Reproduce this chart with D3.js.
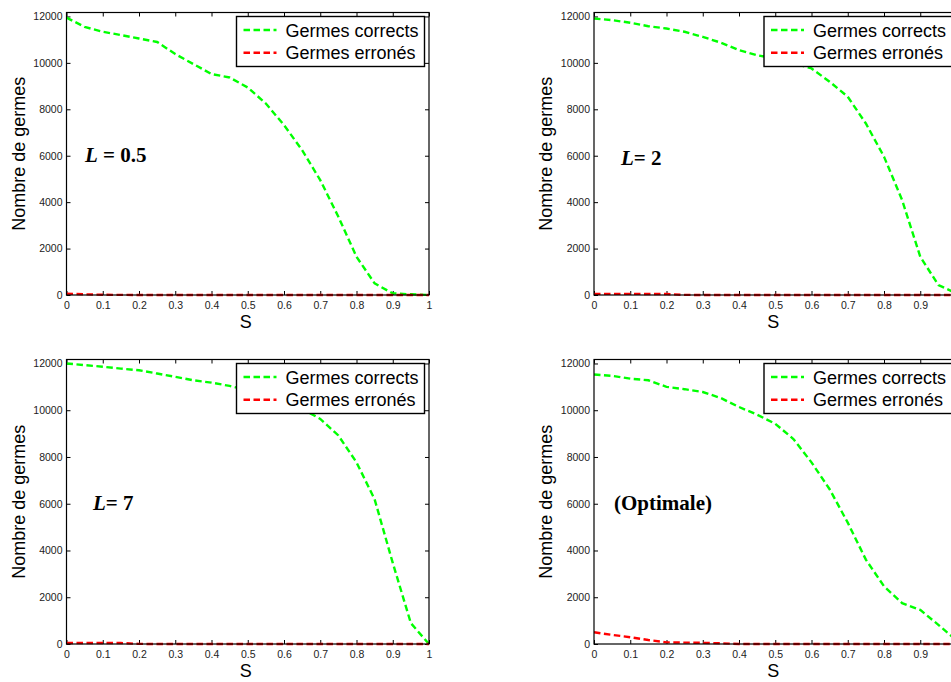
<!DOCTYPE html>
<html>
<head>
<meta charset="utf-8">
<script src="https://cdn.jsdelivr.net/npm/d3@7"></script>
<style>
  html, body { margin: 0; padding: 0; background: #fff; }
  svg { display: block; }
</style>
</head>
<body>
<svg id="chart" width="951" height="682"></svg>
<script>
// ---------- data ----------
const sValues = [0, 0.05, 0.1, 0.15, 0.2, 0.25, 0.3, 0.35, 0.4, 0.45, 0.5,
                 0.55, 0.6, 0.65, 0.7, 0.75, 0.8, 0.85, 0.9, 0.95, 1];

const correctL05 = [11950, 11550, 11340, 11200, 11050, 10900, 10380, 9950, 9520, 9370, 8940,
                    8250, 7320, 6240, 4950, 3370, 1650, 500, 70, 30, 0];
const wrongL05   = [60, 30, 10, 5, 0, 0, 0, 0, 0, 0, 0, 0, 0, 0, 0, 0, 0, 0, 0, 0, 0];

const correctL2  = [11910, 11840, 11730, 11580, 11480, 11340, 11120, 10870, 10550, 10330, 10190,
                    9980, 9760, 9190, 8540, 7390, 5960, 4090, 1650, 430, 70];
const wrongL2    = [50, 50, 50, 45, 40, 5, 0, 0, 0, 0, 0, 0, 0, 0, 0, 0, 0, 0, 0, 0, 0];

const correctL7  = [12000, 11930, 11860, 11780, 11710, 11570, 11430, 11280, 11180, 11040, 10850,
                    10670, 10420, 10060, 9630, 8920, 7770, 6190, 3470, 890, 0];
const wrongL7    = [40, 40, 40, 40, 5, 0, 0, 0, 0, 0, 0, 0, 0, 0, 0, 0, 0, 0, 0, 0, 0];

const correctOpt = [11530, 11470, 11350, 11280, 11000, 10900, 10780, 10520, 10140, 9810, 9420,
                    8770, 7770, 6620, 5190, 3610, 2470, 1750, 1460, 820, 150];
const wrongOpt   = [500, 390, 290, 170, 70, 60, 50, 30, 0, 0, 0, 0, 0, 0, 0, 0, 0, 0, 0, 0, 0];

const xTicks = [0, 0.1, 0.2, 0.3, 0.4, 0.5, 0.6, 0.7, 0.8, 0.9, 1];
const yTicks = [0, 2000, 4000, 6000, 8000, 10000, 12000];
const seriesNames = ["Germes corrects", "Germes erronés"];
const seriesColors = ["#00ff00", "#ff0000"];
const panelLabels = ["L = 0.5", "L= 2", "L= 7", "(Optimale)"];
const xLabel = "S";
const yLabel = "Nombre de germes";

// ---------- layout ----------
const W = 951;
const plotW = 362.5;
const panels = [
  { x0: 66.5, y0: 12.5, y1: 295, correct: correctL05, wrong: wrongL05, label: 0, lx: 85, ly: 162 },
  { x0: 594, y0: 12.5, y1: 295, correct: correctL2, wrong: wrongL2, label: 1, lx: 621, ly: 165 },
  { x0: 66.5, y0: 359.5, y1: 644, correct: correctL7, wrong: wrongL7, label: 2, lx: 93, ly: 510 },
  { x0: 594, y0: 359.5, y1: 644, correct: correctOpt, wrong: wrongOpt, label: 3, lx: 614, ly: 510 }
];

const svg = d3.select("#chart");
const sans = "'Liberation Sans', Arial, Helvetica, sans-serif";
const serif = "'Liberation Serif', 'Times New Roman', serif";

panels.forEach((p, i) => {
  p.x1 = p.x0 + plotW;
  const x = d3.scaleLinear().domain([0, 1]).range([p.x0, p.x1]);
  const y = d3.scaleLinear().domain([0, 12170]).range([p.y1, p.y0]);
  const g = svg.append("g");

  const clipId = "clip" + i;
  svg.append("clipPath").attr("id", clipId)
    .append("rect").attr("x", p.x0).attr("y", p.y0 - 2)
    .attr("width", p.x1 - p.x0).attr("height", p.y1 - p.y0 + 4);

  // tick labels only where they fit in the window (the reference crops the right panels)
  const visibleX = xTicks.filter(v => x(v) + 4 <= W);

  const tl = 4;
  const axB = d3.axisBottom(x).tickValues(xTicks).tickSize(-tl).tickPadding(7)
    .tickFormat(d => visibleX.includes(d) ? d3.format("")(d) : "");
  const axT = d3.axisTop(x).tickValues(xTicks).tickSize(-tl).tickFormat("");
  const axL = d3.axisLeft(y).tickValues(yTicks).tickSize(-tl).tickPadding(4)
    .tickFormat(d3.format("d"));
  const axR = d3.axisRight(y).tickValues(yTicks).tickSize(-tl).tickFormat("");

  const styleAxis = sel => {
    sel.select(".domain").remove();
    sel.selectAll(".tick line").attr("stroke", "#000").attr("stroke-width", 1);
    sel.selectAll("text").attr("fill", "#222").style("font-family", sans).style("font-size", "10.5px");
  };
  g.append("g").attr("transform", `translate(0,${p.y1})`).call(axB).call(styleAxis);
  g.append("g").attr("transform", `translate(0,${p.y0})`).call(axT).call(styleAxis);
  g.append("g").attr("transform", `translate(${p.x0},0)`).call(axL).call(styleAxis);
  g.append("g").attr("transform", `translate(${p.x1},0)`).call(axR).call(styleAxis);

  // lines
  const line = d3.line().x((d, k) => x(sValues[k])).y(d => y(d));
  const lg = g.append("g").attr("clip-path", `url(#${clipId})`);
  [p.correct, p.wrong].forEach((vals, si) => {
    lg.append("path").datum(vals)
      .attr("d", line)
      .attr("fill", "none")
      .attr("stroke", seriesColors[si])
      .attr("stroke-width", 2.4)
      .attr("stroke-dasharray", "6.5,3.5");
  });

  // box
  g.append("rect").attr("x", p.x0).attr("y", p.y0)
    .attr("width", p.x1 - p.x0).attr("height", p.y1 - p.y0)
    .attr("fill", "none").attr("stroke", "#000").attr("stroke-width", 1.2);

  // axis labels
  g.append("text").attr("x", (p.x0 + p.x1) / 2 - 2)
    .attr("y", p.y1 + 33)
    .attr("text-anchor", "middle")
    .style("font-family", sans).style("font-size", "18px").attr("fill", "#000")
    .text(xLabel);
  g.append("text")
    .attr("transform", `translate(${p.x0 - 42},${(p.y0 + p.y1) / 2}) rotate(-90)`)
    .attr("text-anchor", "middle")
    .style("font-family", sans).style("font-size", "18px").attr("fill", "#000")
    .text(yLabel);

  // legend
  const lgW = 188, lgH = 50;
  const lgX = p.x0 + 170, lgY = p.y0 + 4;
  const leg = g.append("g");
  leg.append("rect").attr("x", lgX).attr("y", lgY).attr("width", lgW).attr("height", lgH)
    .attr("fill", "#fff").attr("stroke", "#000").attr("stroke-width", 1.4);
  seriesNames.forEach((name, si) => {
    const cy = lgY + 13.5 + si * 22.7;
    leg.append("line").attr("x1", lgX + 7).attr("x2", lgX + 40)
      .attr("y1", cy).attr("y2", cy)
      .attr("stroke", seriesColors[si]).attr("stroke-width", 2.4)
      .attr("stroke-dasharray", "6.5,3.5");
    leg.append("text").attr("x", lgX + 49).attr("y", cy + 6.5)
      .style("font-family", sans).style("font-size", "18px").attr("fill", "#000")
      .text(name);
  });

  // panel annotation
  const t = g.append("text").attr("x", p.lx).attr("y", p.ly)
    .style("font-family", serif).style("font-size", "21px").style("font-weight", "bold").attr("fill", "#000");
  const lab = panelLabels[p.label];
  if (lab.startsWith("L")) {
    t.append("tspan").style("font-style", "italic").text("L");
    t.append("tspan").text(lab.slice(1));
  } else {
    t.text(lab);
  }
});
</script>
</body>
</html>
